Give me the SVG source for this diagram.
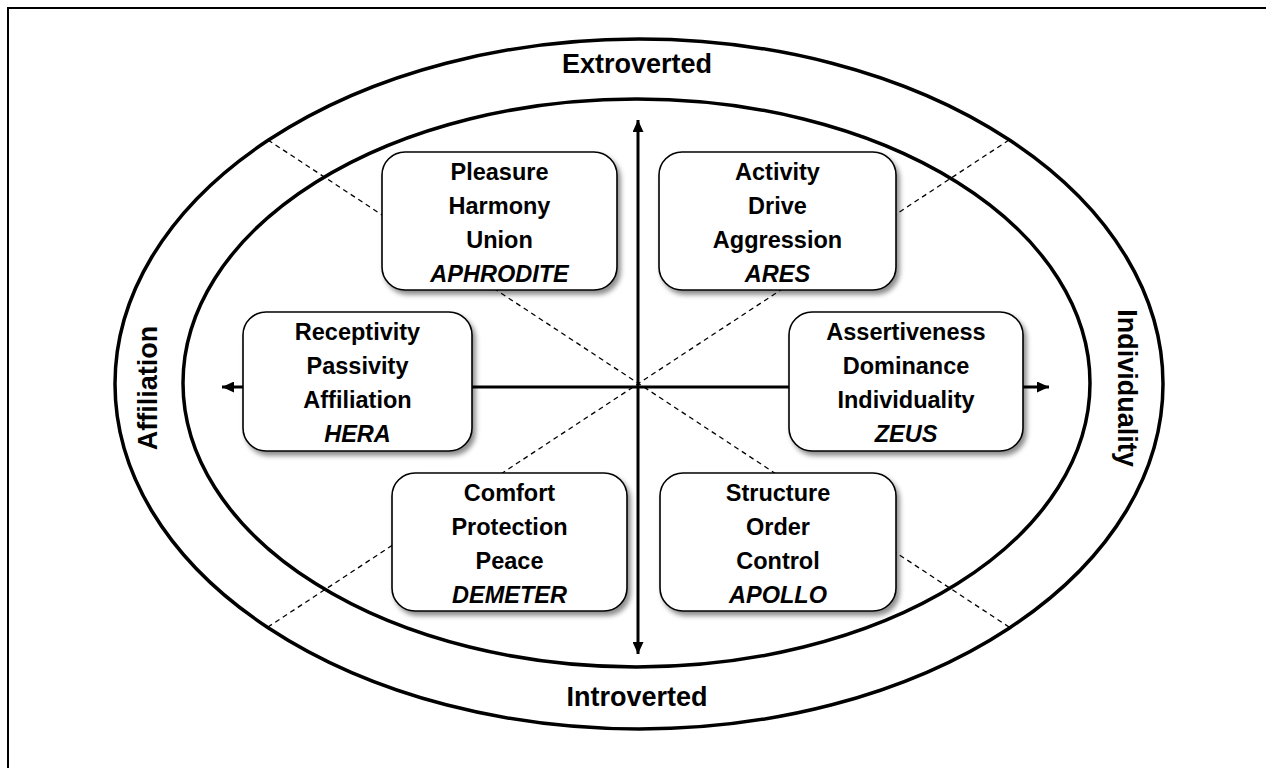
<svg xmlns="http://www.w3.org/2000/svg" width="1266" height="768" viewBox="0 0 1266 768">
  <style>
    .ring { fill: none; stroke: #000; stroke-width: 3.5; }
    .diag { stroke: #000; stroke-width: 1.3; stroke-dasharray: 5 4; fill: none; }
    .axis { stroke: #000; stroke-width: 3; fill: none; }
    .box { fill: #fff; stroke: #000; stroke-width: 1.6; filter: url(#shadow); }
    .t { font-family: "Liberation Sans", Arial, sans-serif; font-weight: bold; font-size: 23.5px; text-anchor: middle; fill: #000; }
    .god { font-style: italic; }
    .band { font-family: "Liberation Sans", Arial, sans-serif; font-weight: bold; font-size: 27px; text-anchor: middle; fill: #000; }
  </style>
  <defs>
    <filter id="shadow" x="-10%" y="-10%" width="130%" height="130%">
      <feDropShadow dx="3" dy="4" stdDeviation="2.5" flood-color="#000" flood-opacity="0.45"/>
    </filter>
    <marker id="head" viewBox="0 0 12 11" refX="12" refY="5.5" markerWidth="12" markerHeight="11" markerUnits="userSpaceOnUse" orient="auto-start-reverse">
      <path d="M0,0 L12,5.5 L0,11 Z" fill="#000"/>
    </marker>
  </defs>

  <rect width="1266" height="768" fill="#fff"/>
  <!-- page frame (open to the right and bottom) -->
  <rect x="8" y="8" width="1300" height="800" fill="none" stroke="#000" stroke-width="2"/>

  <!-- rings -->
  <g id="rings">
    <ellipse class="ring" cx="639" cy="384" rx="524" ry="345"/>
    <ellipse class="ring" cx="636.5" cy="383" rx="453.5" ry="284"/>
  </g>

  <!-- ring labels -->
  <g id="ring-labels">
    <text class="band" x="637" y="73">Extroverted</text>
    <text class="band" x="637" y="706">Introverted</text>
    <text class="band" transform="translate(157,388) rotate(-90)">Affiliation</text>
    <text class="band" transform="translate(1118,388) rotate(90)">Individuality</text>
  </g>

  <!-- connectors: sector dividers and axes -->
  <g id="connectors">
    <line class="diag" x1="268" y1="140" x2="1009" y2="627"/>
    <line class="diag" x1="1009" y1="140" x2="268" y2="627"/>
    <line class="axis" x1="638" y1="654" x2="638" y2="120" marker-start="url(#head)" marker-end="url(#head)"/>
    <line class="axis" x1="222" y1="387" x2="1049" y2="387" marker-start="url(#head)" marker-end="url(#head)"/>
  </g>

  <g id="aphrodite">
    <rect class="box" x="382" y="152" width="235" height="138" rx="23"/>
    <text class="t" x="499.5" y="179.5">Pleasure</text>
    <text class="t" x="499.5" y="213.7">Harmony</text>
    <text class="t" x="499.5" y="247.9">Union</text>
    <text class="t god" x="499.5" y="282.1">APHRODITE</text>
  </g>

  <g id="ares">
    <rect class="box" x="659" y="152" width="237" height="138" rx="23"/>
    <text class="t" x="777.5" y="179.5">Activity</text>
    <text class="t" x="777.5" y="213.7">Drive</text>
    <text class="t" x="777.5" y="247.9">Aggression</text>
    <text class="t god" x="777.5" y="282.1">ARES</text>
  </g>

  <g id="hera">
    <rect class="box" x="243" y="312" width="229" height="139" rx="23"/>
    <text class="t" x="357.5" y="339.5">Receptivity</text>
    <text class="t" x="357.5" y="373.7">Passivity</text>
    <text class="t" x="357.5" y="407.9">Affiliation</text>
    <text class="t god" x="357.5" y="442.1">HERA</text>
  </g>

  <g id="zeus">
    <rect class="box" x="789" y="312" width="234" height="139" rx="23"/>
    <text class="t" x="906" y="339.5">Assertiveness</text>
    <text class="t" x="906" y="373.7">Dominance</text>
    <text class="t" x="906" y="407.9">Individuality</text>
    <text class="t god" x="906" y="442.1">ZEUS</text>
  </g>

  <g id="demeter">
    <rect class="box" x="392" y="473" width="235" height="138" rx="23"/>
    <text class="t" x="509.5" y="500.5">Comfort</text>
    <text class="t" x="509.5" y="534.7">Protection</text>
    <text class="t" x="509.5" y="568.9">Peace</text>
    <text class="t god" x="509.5" y="603.1">DEMETER</text>
  </g>

  <g id="apollo">
    <rect class="box" x="660" y="473" width="236" height="138" rx="23"/>
    <text class="t" x="778" y="500.5">Structure</text>
    <text class="t" x="778" y="534.7">Order</text>
    <text class="t" x="778" y="568.9">Control</text>
    <text class="t god" x="778" y="603.1">APOLLO</text>
  </g>
</svg>
